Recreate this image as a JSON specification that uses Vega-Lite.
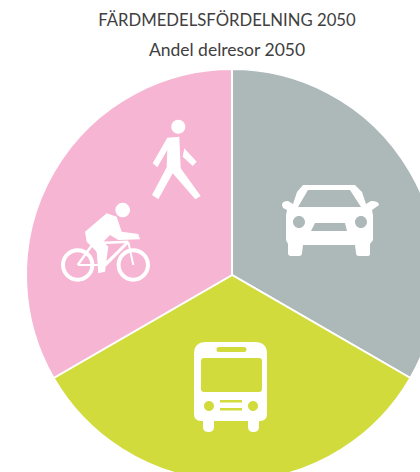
{
  "$schema": "https://vega.github.io/schema/vega-lite/v6.json",
  "width": 420,
  "height": 472,
  "padding": 0,
  "autosize": {"type": "none"},
  "background": "white",
  "config": {"view": {"stroke": null}},
  "data": {"values": [
    {"mode": "Bil", "share": 33.3},
    {"mode": "Buss", "share": 33.3},
    {"mode": "Gång och cykel", "share": 33.3}
  ]},
  "layer": [
    {
      "mark": {"type": "arc", "radius": 206, "stroke": "white", "strokeWidth": 2},
      "encoding": {
        "x": {"datum": 232, "type": "quantitative", "scale": {"domain": [0, 420], "nice": false}, "axis": null},
        "y": {"datum": 275, "type": "quantitative", "scale": {"domain": [0, 472], "nice": false, "reverse": true}, "axis": null},
        "theta": {"field": "share", "type": "quantitative", "stack": true},
        "order": {"field": "mode"},
        "color": {"field": "mode", "type": "nominal", "legend": null,
          "scale": {"domain": ["Bil", "Buss", "Gång och cykel"], "range": ["#ADB8B8", "#D2DB3C", "#F6B5D3"]}}
      }
    },
    {
      "mark": {"type": "point", "filled": true, "size": 4, "fill": "white", "opacity": 1, "strokeWidth": 0},
      "encoding": {
        "x": {"datum": 232, "type": "quantitative", "axis": null},
        "y": {"datum": 272, "type": "quantitative", "axis": null},
        "shape": {"field": "mode", "type": "nominal", "legend": null,
          "scale": {"domain": ["Bil", "Buss", "Gång och cykel"], "range": [
            "M71 -87L123 -87L130 -80L134 -68L139 -71Q147 -71 147 -67L140 -62L141 -57L141 -32L138 -28L138 -18Q138 -16 135 -16L127 -16Q124 -16 124 -19L123 -27L71 -27L70 -19Q70 -16 67 -16L59 -16Q56 -16 56 -19L56 -28L54 -32L54 -57L55 -62L51 -64L50 -67Q50 -71 56 -71L61 -68L65 -80ZM76 -82L66 -65L129 -65L118 -82ZM61 -50a6 6 0 1 0 12 0a6 6 0 1 0 -12 0ZM123 -50a6 6 0 1 0 12 0a6 6 0 1 0 -12 0ZM83 -49L79 -41L115 -41L113 -49Z",
            "M-26 70L23 70Q35 70 35 82L35 142Q35 149 28 149L27 149L27 155Q27 160 21.5 160Q16 160 16 155L16 149L-18 149L-18 155Q-18 160 -23.5 160Q-29 160 -29 155L-29 149L-31 149Q-38 149 -38 142L-38 82Q-38 70 -26 70ZM-28 86Q-31 86 -31 89L-31 117Q-31 120 -28 120L27 120Q30 120 30 117L30 89Q30 86 27 86ZM-13 75Q-15.5 75 -15.5 77.5Q-15.5 80 -13 80L12 80Q14.5 80 14.5 77.5Q14.5 75 12 75ZM-28 134a5 5 0 1 0 10 0a5 5 0 1 0 -10 0ZM16 134a5 5 0 1 0 10 0a5 5 0 1 0 -10 0ZM-12 128L-12 130.500L10 130.500L10 128ZM-12 136L-12 138.500L10 138.500L10 136Z",
            "M-60.700 -145.300a7 7 0 1 1 14 0a7 7 0 1 1 -14 0ZM-64.700 -134.300L-52.700 -135.300L-51.300 -103.700L-31.300 -76L-36.700 -72.700L-59.300 -98.700L-73.700 -72.700L-80 -77L-65.300 -104.700L-64.700 -122L-74.700 -104.700L-79.300 -108.700ZM-47.700 -123.700L-35.300 -110.300L-39.300 -106L-49.300 -115.300ZM-116.600 -62a7.300 7.300 0 1 1 14.600 0a7.300 7.300 0 1 1 -14.600 0ZM-147 -40.300L-125.300 -58.700L-115.300 -55.300L-110.300 -40.300L-93.700 -38L-92 -32.700L-113.700 -32L-122 -37L-128.700 -30.300L-123.700 -25.300L-127 -0.300L-133.700 1.300L-135.300 -20.300L-145.300 -30.300ZM-171 -7a16.700 16.700 0 1 1 33.400 0a16.700 16.700 0 1 1 -33.400 0ZM-167 -7a12.700 12.700 0 1 0 25.400 0a12.700 12.700 0 1 0 -25.400 0ZM-115.400 -7a16.700 16.700 0 1 1 33.400 0a16.700 16.700 0 1 1 -33.400 0ZM-111.400 -7a12.700 12.700 0 1 0 25.400 0a12.700 12.700 0 1 0 -25.400 0ZM-154 -8L-127 -8L-127 -6L-154 -6ZM-155.300 -7.700L-139.700 -29.400L-137.700 -28L-153.300 -6.300ZM-138.700 -30L-103.700 -31.500L-103.700 -29L-138.700 -27.500ZM-105 -31L-102.500 -29.500L-125.500 -6L-128.500 -8ZM-104.700 -30L-102.700 -30L-97.700 -7L-99.700 -7ZM-140 -28L-137.500 -29L-126 -7L-128 -6Z"
          ]}}
      }
    },
    {
      "data": {"values": [{"t": "FÄRDMEDELSFÖRDELNING 2050"}]},
      "mark": {"type": "text", "font": "Lato", "fontSize": 16.7, "fontWeight": 400, "color": "#404040", "align": "center", "baseline": "middle"},
      "encoding": {
        "x": {"datum": 227, "type": "quantitative", "axis": null},
        "y": {"datum": 21, "type": "quantitative", "axis": null},
        "text": {"field": "t"}
      }
    },
    {
      "data": {"values": [{"t": "Andel delresor 2050"}]},
      "mark": {"type": "text", "font": "Lato", "fontSize": 17.5, "fontWeight": 400, "color": "#404040", "align": "center", "baseline": "middle"},
      "encoding": {
        "x": {"datum": 227, "type": "quantitative", "axis": null},
        "y": {"datum": 51, "type": "quantitative", "axis": null},
        "text": {"field": "t"}
      }
    }
  ]
}
